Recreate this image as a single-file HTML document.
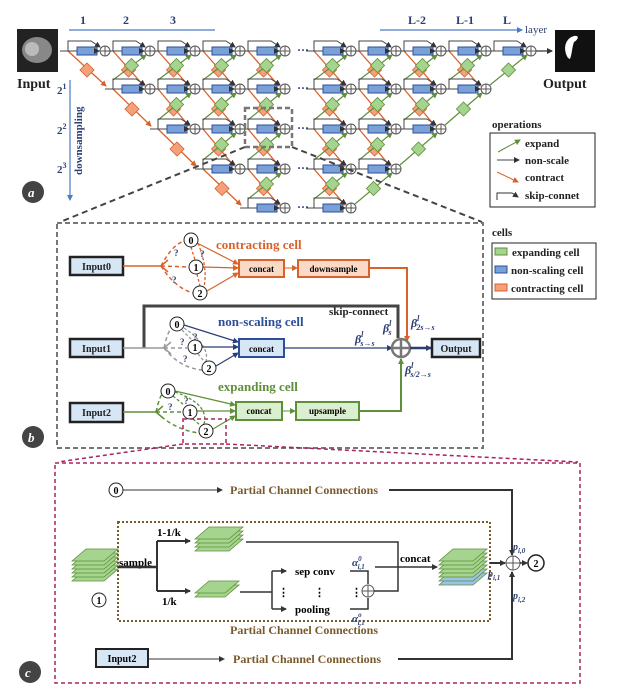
<!DOCTYPE html>
<html><head><meta charset="utf-8"><style>
html,body{margin:0;padding:0;background:#fff;}
svg{display:block;font-family:"Liberation Serif",serif;font-weight:bold;}
</style></head><body>
<svg id="s" width="627" height="693" viewBox="0 0 627 693" xmlns="http://www.w3.org/2000/svg">
<defs>
<marker id="aK" markerWidth="6" markerHeight="6" refX="5" refY="3" orient="auto" markerUnits="userSpaceOnUse"><path d="M0,0L6,3L0,6z" fill="#333"/></marker>
<marker id="aO" markerWidth="6" markerHeight="6" refX="5" refY="3" orient="auto" markerUnits="userSpaceOnUse"><path d="M0,0L6,3L0,6z" fill="#d9622b"/></marker>
<marker id="aG" markerWidth="6" markerHeight="6" refX="5" refY="3" orient="auto" markerUnits="userSpaceOnUse"><path d="M0,0L6,3L0,6z" fill="#5f8f3a"/></marker>
<marker id="aB" markerWidth="6" markerHeight="6" refX="5" refY="3" orient="auto" markerUnits="userSpaceOnUse"><path d="M0,0L6,3L0,6z" fill="#2b3f73"/></marker>
<marker id="aL" markerWidth="6" markerHeight="6" refX="5" refY="3" orient="auto" markerUnits="userSpaceOnUse"><path d="M0,0L6,3L0,6z" fill="#4a7cc4"/></marker>
</defs>

<line x1="69" y1="30" x2="215" y2="30" stroke="#4a7cc4" stroke-width="1.2"/>
<text x="80" y="24" font-size="12" fill="#2b3f73">1</text>
<text x="123" y="24" font-size="12" fill="#2b3f73">2</text>
<text x="170" y="24" font-size="12" fill="#2b3f73">3</text>
<line x1="380" y1="30" x2="522" y2="30" stroke="#4a7cc4" stroke-width="1.2" marker-end="url(#aL)"/>
<text x="408" y="24" font-size="12" fill="#2b3f73">L-2</text>
<text x="456" y="24" font-size="12" fill="#2b3f73">L-1</text>
<text x="503" y="24" font-size="12" fill="#2b3f73">L</text>
<text x="525" y="33" font-size="11" fill="#2b3f73" font-weight="normal">layer</text>

<rect x="17" y="29" width="41" height="43" fill="#222"/>
<ellipse cx="37" cy="50" rx="15" ry="13" fill="#888"/>
<ellipse cx="32" cy="49" rx="7" ry="7" fill="#bbb"/>
<text x="17" y="88" font-size="14" fill="#222">Input</text>
<rect x="555" y="30" width="40" height="42" fill="#111"/>
<path d="M568,58 C562,48 566,38 574,36 C580,35 578,40 574,42 C572,47 572,54 570,59z" fill="#fff"/>
<text x="543" y="88" font-size="14" fill="#222">Output</text>

<line x1="70" y1="80" x2="70" y2="200" stroke="#4a7cc4" stroke-width="1.2" marker-end="url(#aL)"/>
<text x="57" y="94" font-size="11" fill="#2b3f73">2<tspan dy="-5" font-size="8">1</tspan></text>
<text x="57" y="134" font-size="11" fill="#2b3f73">2<tspan dy="-5" font-size="8">2</tspan></text>
<text x="57" y="173" font-size="11" fill="#2b3f73">2<tspan dy="-5" font-size="8">3</tspan></text>
<text transform="translate(82,175) rotate(-90)" font-size="11" fill="#2b3f73">downsampling</text>

<g id="grid"></g>

<text x="492" y="128" font-size="11" fill="#222">operations</text>
<rect x="490" y="133" width="105" height="74" fill="#fff" stroke="#222" stroke-width="1"/>
<line x1="498" y1="152" x2="520" y2="140" stroke="#5f8f3a" marker-end="url(#aG)"/>
<text x="525" y="147" font-size="11" fill="#222">expand</text>
<line x1="497" y1="160" x2="519" y2="160" stroke="#444" marker-end="url(#aK)"/>
<text x="525" y="164" font-size="11" fill="#222">non-scale</text>
<line x1="497" y1="172" x2="518" y2="182" stroke="#d9622b" marker-end="url(#aO)"/>
<text x="525" y="181" font-size="11" fill="#222">contract</text>
<path d="M497,200 V193 H512 L518,197" fill="none" stroke="#333" marker-end="url(#aK)"/>
<text x="525" y="199" font-size="11" fill="#222">skip-connet</text>

<circle cx="33" cy="192" r="11" fill="#444"/>
<text x="28" y="197" font-size="13" fill="#fff" font-style="italic">a</text>

<rect x="245" y="108" width="47" height="39" fill="none" stroke="#777" stroke-width="2.5" stroke-dasharray="5,3"/>
<line x1="245" y1="147" x2="60" y2="222" stroke="#444" stroke-width="2" stroke-dasharray="6,4"/>
<line x1="292" y1="147" x2="482" y2="222" stroke="#444" stroke-width="2" stroke-dasharray="6,4"/>

<rect x="57" y="223" width="426" height="225" fill="none" stroke="#777" stroke-width="2" stroke-dasharray="5,3"/>
<text x="492" y="236" font-size="11" fill="#222">cells</text>
<rect x="492" y="243" width="104" height="56" fill="#fff" stroke="#222"/>
<rect x="495" y="248" width="12" height="7" fill="#a5d48f" stroke="#5f8f3a"/>
<text x="512" y="256" font-size="11" fill="#222">expanding cell</text>
<rect x="495" y="266" width="12" height="7" fill="#7aa0d8" stroke="#2c4f9a"/>
<text x="511" y="274" font-size="11" fill="#222">non-scaling cell</text>
<rect x="495" y="284" width="12" height="7" fill="#f4a07a" stroke="#d9622b"/>
<text x="511" y="292" font-size="11" fill="#222">contracting cell</text>

<rect x="70" y="257" width="53" height="18" fill="#d6e6f5" stroke="#222" stroke-width="2.5"/>
<text x="96.5" y="270" font-size="10" text-anchor="middle" fill="#222">Input0</text>
<line x1="123" y1="266" x2="162" y2="266" stroke="#d9622b" stroke-width="1.5"/>
<path d="M168,260 L161,266 L168,272" fill="none" stroke="#d9622b" stroke-width="1.5"/>
<path d="M161,266 Q172,245 184,241 M161,266 L188,267 M161,266 Q175,288 193,293" fill="none" stroke="#d9622b" stroke-width="1.5" stroke-dasharray="4,3"/>
<path d="M191,247 L195,260 M197,274 L200,286 M198,243 Q208,268 204,287" fill="none" stroke="#d9622b" stroke-width="1.3" stroke-dasharray="3,2"/>
<text x="174" y="256" font-size="9" fill="#2b3f73">?</text><text x="200" y="257" font-size="9" fill="#2b3f73">?</text><text x="172" y="283" font-size="9" fill="#2b3f73">?</text>
<line x1="197" y1="243" x2="238" y2="264" stroke="#d9622b" stroke-width="1.2" marker-end="url(#aO)"/>
<line x1="203" y1="267" x2="238" y2="268" stroke="#d9622b" stroke-width="1.2" marker-end="url(#aO)"/>
<line x1="207" y1="291" x2="238" y2="273" stroke="#d9622b" stroke-width="1.2" marker-end="url(#aO)"/>
<circle cx="191" cy="240" r="7" fill="#fff" stroke="#222"/><text x="191" y="244" font-size="10" text-anchor="middle">0</text>
<circle cx="196" cy="267" r="7" fill="#fff" stroke="#222"/><text x="196" y="271" font-size="10" text-anchor="middle">1</text>
<circle cx="200" cy="293" r="7" fill="#fff" stroke="#222"/><text x="200" y="297" font-size="10" text-anchor="middle">2</text>
<text x="216" y="249" font-size="13" fill="#d9622b">contracting cell</text>
<rect x="239" y="260" width="45" height="17" fill="#fbd9c7" stroke="#d9622b" stroke-width="2"/>
<text x="261.5" y="272" font-size="9" text-anchor="middle">concat</text>
<line x1="284" y1="268" x2="297" y2="268" stroke="#d9622b" marker-end="url(#aO)"/>
<rect x="298" y="260" width="71" height="17" fill="#fbd9c7" stroke="#d9622b" stroke-width="2"/>
<text x="333.5" y="272" font-size="9" text-anchor="middle">downsample</text>
<path d="M369,268 H407 V341" fill="none" stroke="#d9622b" stroke-width="2" marker-end="url(#aO)"/>

<path d="M144,348 V306 H398 V338" fill="none" stroke="#444" stroke-width="3"/>
<text x="329" y="315" font-size="11" fill="#222">skip-connect</text>
<rect x="70" y="339" width="53" height="18" fill="#d6e6f5" stroke="#222" stroke-width="2.5"/>
<text x="96.5" y="352" font-size="10" text-anchor="middle" fill="#222">Input1</text>
<line x1="123" y1="348" x2="165" y2="348" stroke="#999" stroke-width="1.5"/>
<path d="M171,342 L164,348 L171,354" fill="none" stroke="#999" stroke-width="1.5"/>
<path d="M164,348 Q168,330 172,328 M164,348 L187,348 M164,348 Q180,368 202,370" fill="none" stroke="#999" stroke-width="1.5" stroke-dasharray="4,3"/>
<path d="M182,330 L192,340 M198,354 L205,362 M184,328 Q210,345 206,362" fill="none" stroke="#999" stroke-width="1.3" stroke-dasharray="3,2"/>
<text x="193" y="340" font-size="9" fill="#2b3f73">?</text><text x="180" y="345" font-size="9" fill="#2b3f73">?</text><text x="183" y="362" font-size="9" fill="#2b3f73">?</text>
<line x1="184" y1="325" x2="238" y2="342" stroke="#2b3f73" stroke-width="1.2" marker-end="url(#aB)"/>
<line x1="202" y1="347" x2="238" y2="347" stroke="#2b3f73" stroke-width="1.2" marker-end="url(#aB)"/>
<line x1="216" y1="366" x2="238" y2="353" stroke="#2b3f73" stroke-width="1.2" marker-end="url(#aB)"/>
<circle cx="177" cy="324" r="7" fill="#fff" stroke="#222"/><text x="177" y="328" font-size="10" text-anchor="middle">0</text>
<circle cx="195" cy="347" r="7" fill="#fff" stroke="#222"/><text x="195" y="351" font-size="10" text-anchor="middle">1</text>
<circle cx="209" cy="368" r="7" fill="#fff" stroke="#222"/><text x="209" y="372" font-size="10" text-anchor="middle">2</text>
<text x="218" y="326" font-size="13" fill="#2c4f9a">non-scaling cell</text>
<rect x="239" y="339" width="45" height="18" fill="#d6e6f5" stroke="#2c4f9a" stroke-width="2"/>
<text x="261.5" y="352" font-size="9" text-anchor="middle">concat</text>
<line x1="284" y1="348" x2="392" y2="348" stroke="#2b3f73" stroke-width="1.3" marker-end="url(#aB)"/>
<circle cx="401" cy="348" r="9" fill="#fff" stroke="#777" stroke-width="2.5"/>
<path d="M392,348 H410 M401,339 V357" stroke="#777" stroke-width="2.5"/>
<line x1="410" y1="348" x2="431" y2="348" stroke="#2b3f73" stroke-width="2.5" marker-end="url(#aB)"/>
<rect x="432" y="339" width="48" height="18" fill="#d6e6f5" stroke="#222" stroke-width="2.5"/>
<text x="456" y="352" font-size="10" text-anchor="middle" fill="#222">Output</text>
<text x="383" y="332" font-size="12" fill="#2b3f73" font-style="italic">β<tspan font-size="8" dy="-6">l</tspan><tspan font-size="8" dx="-3" dy="9">s</tspan></text>
<text x="411" y="327" font-size="12" fill="#2b3f73" font-style="italic">β<tspan font-size="8" dy="-6">l</tspan><tspan font-size="8" dx="-3" dy="9">2s→s</tspan></text>
<text x="355" y="343" font-size="12" fill="#2b3f73" font-style="italic">β<tspan font-size="8" dy="-6">l</tspan><tspan font-size="8" dx="-3" dy="9">s→s</tspan></text>
<text x="405" y="374" font-size="12" fill="#2b3f73" font-style="italic">β<tspan font-size="8" dy="-6">l</tspan><tspan font-size="8" dx="-3" dy="9">s/2→s</tspan></text>

<rect x="70" y="403" width="53" height="19" fill="#d6e6f5" stroke="#222" stroke-width="2.5"/>
<text x="96.5" y="416" font-size="10" text-anchor="middle" fill="#222">Input2</text>
<line x1="123" y1="412" x2="157" y2="412" stroke="#5f8f3a" stroke-width="1.5"/>
<path d="M163,406 L156,412 L163,418" fill="none" stroke="#5f8f3a" stroke-width="1.5"/>
<path d="M156,412 Q160,395 163,393 M156,412 L183,412 M156,412 Q175,430 199,433" fill="none" stroke="#5f8f3a" stroke-width="1.5" stroke-dasharray="4,3"/>
<path d="M173,396 L184,405 M193,419 L200,425 M175,392 Q212,405 203,427" fill="none" stroke="#5f8f3a" stroke-width="1.3" stroke-dasharray="3,2"/>
<text x="184" y="404" font-size="9" fill="#2b3f73">?</text><text x="168" y="410" font-size="9" fill="#2b3f73">?</text>
<line x1="175" y1="391" x2="235" y2="405" stroke="#5f8f3a" stroke-width="1.2" marker-end="url(#aG)"/>
<line x1="197" y1="411" x2="235" y2="411" stroke="#5f8f3a" stroke-width="1.2" marker-end="url(#aG)"/>
<line x1="213" y1="429" x2="235" y2="416" stroke="#5f8f3a" stroke-width="1.2" marker-end="url(#aG)"/>
<circle cx="168" cy="391" r="7" fill="#fff" stroke="#222"/><text x="168" y="395" font-size="10" text-anchor="middle">0</text>
<circle cx="190" cy="412" r="7" fill="#fff" stroke="#222"/><text x="190" y="416" font-size="10" text-anchor="middle">1</text>
<circle cx="206" cy="431" r="7" fill="#fff" stroke="#222"/><text x="206" y="435" font-size="10" text-anchor="middle">2</text>
<text x="218" y="391" font-size="13" fill="#5f8f3a">expanding cell</text>
<rect x="236" y="402" width="46" height="18" fill="#d9efcf" stroke="#5f8f3a" stroke-width="2"/>
<text x="259" y="414" font-size="9" text-anchor="middle">concat</text>
<line x1="282" y1="411" x2="295" y2="411" stroke="#5f8f3a" marker-end="url(#aG)"/>
<rect x="296" y="402" width="63" height="18" fill="#d9efcf" stroke="#5f8f3a" stroke-width="2"/>
<text x="327.5" y="414" font-size="9" text-anchor="middle">upsample</text>
<path d="M359,411 H401 V359" fill="none" stroke="#5f8f3a" stroke-width="2" marker-end="url(#aG)"/>
<rect x="183" y="419" width="43" height="25" fill="none" stroke="#a8245f" stroke-width="1.5" stroke-dasharray="4,3"/>
<line x1="183" y1="444" x2="58" y2="462" stroke="#a8245f" stroke-width="1.5" stroke-dasharray="4,3"/>
<line x1="226" y1="444" x2="578" y2="462" stroke="#a8245f" stroke-width="1.5" stroke-dasharray="4,3"/>
<circle cx="33" cy="437" r="11" fill="#444"/>
<text x="28" y="442" font-size="13" fill="#fff" font-style="italic">b</text>

<rect x="55" y="463" width="525" height="220" fill="none" stroke="#a8245f" stroke-width="1.5" stroke-dasharray="4,3"/>
<circle cx="30" cy="672" r="11" fill="#444"/>
<text x="25" y="677" font-size="13" fill="#fff" font-style="italic">c</text>

<circle cx="116" cy="490" r="7" fill="#fff" stroke="#222"/><text x="116" y="494" font-size="10" text-anchor="middle">0</text>
<line x1="123" y1="490" x2="222" y2="490" stroke="#333" marker-end="url(#aK)"/>
<text x="230" y="494" font-size="12" fill="#7a5a2a">Partial Channel Connections</text>
<path d="M389,490 H512 V555" fill="none" stroke="#333" stroke-width="2" marker-end="url(#aK)"/>

<rect x="118" y="522" width="372" height="99" fill="none" stroke="#7a5a2a" stroke-width="2" stroke-dasharray="2,2"/>
<text x="230" y="634" font-size="12" fill="#7a5a2a">Partial Channel Connections</text>

<g id="stacks"></g>
<text x="119" y="566" font-size="11">sample</text>
<circle cx="99" cy="600" r="7" fill="#fff" stroke="#222"/><text x="99" y="604" font-size="10" text-anchor="middle">1</text>
<line x1="118" y1="567" x2="157" y2="567" stroke="#333" stroke-width="2.5"/>
<path d="M157,541 V591" stroke="#333" stroke-width="2"/>
<line x1="157" y1="541" x2="190" y2="541" stroke="#333" stroke-width="2" marker-end="url(#aK)"/>
<line x1="157" y1="591" x2="190" y2="591" stroke="#333" stroke-width="2" marker-end="url(#aK)"/>
<text x="157" y="536" font-size="11">1-1/k</text>
<text x="162" y="605" font-size="11">1/k</text>
<path d="M246,542 H398 V567" fill="none" stroke="#333" stroke-width="1.5"/>
<line x1="375" y1="567" x2="437" y2="567" stroke="#333" stroke-width="1.5" marker-end="url(#aK)"/>
<text x="400" y="562" font-size="11">concat</text>
<line x1="240" y1="592" x2="272" y2="592" stroke="#333" stroke-width="1.5"/>
<path d="M272,571 V609" stroke="#333" stroke-width="1.5"/>
<line x1="272" y1="571" x2="286" y2="571" stroke="#333" stroke-width="1.5" marker-end="url(#aK)"/>
<line x1="272" y1="609" x2="286" y2="609" stroke="#333" stroke-width="1.5" marker-end="url(#aK)"/>
<text x="295" y="575" font-size="11">sep conv</text>
<text x="295" y="613" font-size="11">pooling</text>
<text x="278" y="596" font-size="11">⋮</text><text x="314" y="596" font-size="11">⋮</text><text x="351" y="596" font-size="11">⋮</text>
<path d="M350,571 H368 V584 M350,609 H368 V598" fill="none" stroke="#333" stroke-width="1.5"/>
<circle cx="368" cy="591" r="6" fill="#fff" stroke="#555"/><path d="M362,591 H374 M368,585 V597" stroke="#555"/>
<path d="M374,591 H398 V567" fill="none" stroke="#333" stroke-width="1.5"/>
<text x="352" y="566" font-size="11" fill="#2b3f73" font-style="italic">α<tspan font-size="7" dy="-5">0</tspan><tspan font-size="7" dx="-4" dy="8">i,1</tspan></text>
<text x="352" y="622" font-size="11" fill="#2b3f73" font-style="italic">α<tspan font-size="7" dy="-5">o</tspan><tspan font-size="7" dx="-4" dy="8">i,1</tspan></text>

<text x="513" y="550" font-size="10" fill="#2b3f73" font-style="italic">p<tspan font-size="7" dy="3">i,0</tspan></text>
<text x="488" y="577" font-size="10" fill="#2b3f73" font-style="italic">p<tspan font-size="7" dy="3">i,1</tspan></text>
<text x="513" y="599" font-size="10" fill="#2b3f73" font-style="italic">p<tspan font-size="7" dy="3">i,2</tspan></text>
<line x1="490" y1="563" x2="505" y2="563" stroke="#333" stroke-width="2" marker-end="url(#aK)"/>
<circle cx="513" cy="563" r="7" fill="#fff" stroke="#555"/><path d="M506,563 H520 M513,556 V570" stroke="#555"/>
<line x1="520" y1="563" x2="527" y2="563" stroke="#333" stroke-width="1.5" marker-end="url(#aK)"/>
<circle cx="536" cy="563" r="8" fill="#fff" stroke="#222" stroke-width="1.5"/><text x="536" y="567" font-size="10" text-anchor="middle">2</text>

<rect x="96" y="649" width="52" height="18" fill="#d6e6f5" stroke="#222" stroke-width="2"/>
<text x="122" y="662" font-size="10" text-anchor="middle">Input2</text>
<line x1="148" y1="659" x2="224" y2="659" stroke="#333" marker-end="url(#aK)"/>
<text x="233" y="663" font-size="12" fill="#7a5a2a">Partial Channel Connections</text>
<path d="M398,659 H512 V572" fill="none" stroke="#333" stroke-width="2" marker-end="url(#aK)"/>
</svg>
<script>
(function(){
var NS="http://www.w3.org/2000/svg";
var g=document.getElementById("grid");
function el(t,a){var e=document.createElementNS(NS,t);for(var k in a)e.setAttribute(k,a[k]);g.appendChild(e);return e;}
var rows=[51,89,129,169,208];
function px(c){return c<5?105+45*c:351+45*(c-5);}
function exists(r,c){return c<5?c>=r:(c-5)<=4-r;}
function diamond(x,y,fill,st){el("rect",{x:x-5,y:y-5,width:10,height:10,fill:fill,stroke:st,"stroke-width":0.8,transform:"rotate(45 "+x+" "+y+")"});}
for(var r=0;r<5;r++){for(var c=0;c<10;c++){if(!exists(r,c))continue;
 var P=px(c),L=P-37,y=rows[r];
 if(r<4){
  var tx,ty=rows[r+1];
  if(exists(r+1,c)){tx=P-6;}else{tx=L+38;}
  if(c<5||exists(r+1,c)){el("line",{x1:L,y1:y,x2:tx,y2:ty-3,stroke:"#d9622b","stroke-width":1.3,"marker-end":"url(#aO)"});
  diamond((L+tx)/2,(y+ty)/2,"#f4a07a","#d9622b");}
 }
 if(r<4 && exists(r+1,c)){
  el("line",{x1:L,y1:rows[r+1]-9,x2:P-4,y2:y+4,stroke:"#5f8f3a","stroke-width":1.2,"marker-end":"url(#aG)"});
  diamond((L+P)/2,(rows[r+1]-9+y)/2,"#a5d48f","#5f8f3a");
 }
 el("line",{x1:L-8,y1:y,x2:L+9,y2:y,stroke:"#444","stroke-width":1});
 el("path",{d:"M"+L+","+y+" V"+(y-10)+" H"+(P-14)+" L"+(P-5)+","+(y-4),fill:"none",stroke:"#444","stroke-width":1,"marker-end":"url(#aK)"});
 el("rect",{x:L+9,y:y-4,width:20,height:8,fill:"#7aa0d8",stroke:"#2c4f9a","stroke-width":1});
 el("line",{x1:L+29,y1:y,x2:P-6,y2:y,stroke:"#444","stroke-width":1,"marker-end":"url(#aK)"});
 el("circle",{cx:P,cy:y,r:5,fill:"#fff",stroke:"#555","stroke-width":1});
 el("path",{d:"M"+(P-5)+","+y+"H"+(P+5)+"M"+P+","+(y-5)+"V"+(y+5),stroke:"#555","stroke-width":1});
}
 var t=el("text",{x:297,y:rows[r]+3,"font-size":"12",fill:"#2b3f73"});t.textContent="···";
}
var ch=[[351,208],[396,169],[441,129],[486,89],[531,51]];
for(var i=0;i<4;i++){var a=ch[i],b=ch[i+1];
 el("line",{x1:a[0]+4,y1:a[1]-4,x2:b[0]-4,y2:b[1]+4,stroke:"#5f8f3a","stroke-width":1.2,"marker-end":"url(#aG)"});
 diamond((a[0]+b[0])/2,(a[1]+b[1])/2,"#a5d48f","#5f8f3a");}
el("line",{x1:536,y1:51,x2:552,y2:51,stroke:"#555","stroke-width":1.5,"marker-end":"url(#aK)"});
var s=document.getElementById("stacks");
function stack(x,y,w,n,blue){for(var i=n-1;i>=0;i--){var e=document.createElementNS(NS,"path");var yy=y+i*4;
 e.setAttribute("d","M"+x+","+(yy+12)+" L"+(x+14)+","+yy+" H"+(x+w)+" L"+(x+w-14)+","+(yy+12)+"Z");
 e.setAttribute("fill",(blue&&i>=n-2)?"#9cc3e6":"#a5d48f");e.setAttribute("stroke","#5f8f3a");e.setAttribute("stroke-width","0.8");s.appendChild(e);}}
stack(72,549,46,6,false);
stack(195,527,48,4,false);
stack(195,581,44,2,false);
stack(439,549,48,7,true);
})();
</script>
</body></html>
